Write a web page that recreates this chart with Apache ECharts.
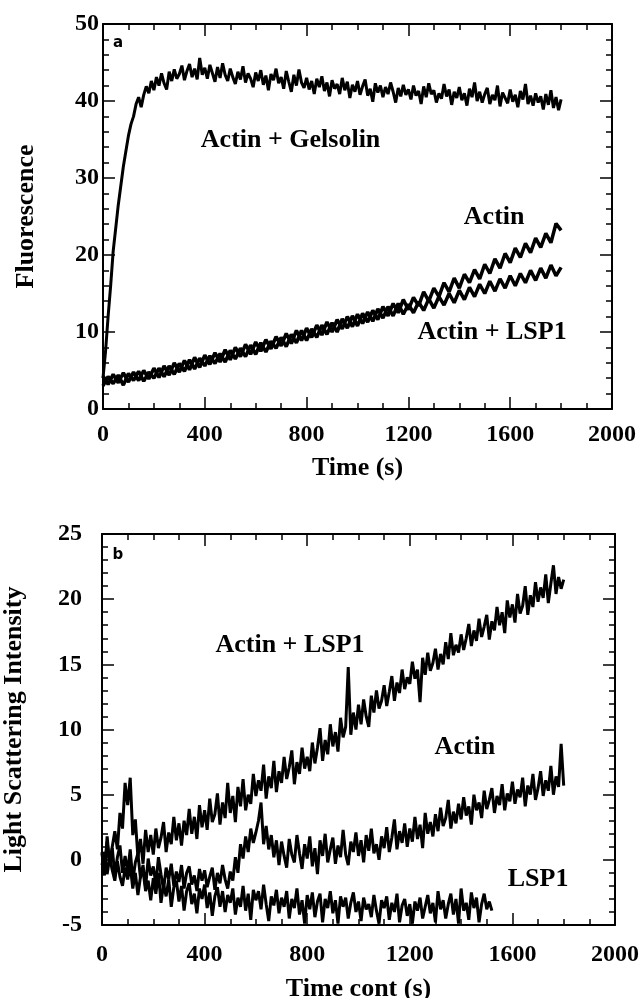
<!DOCTYPE html>
<html>
<head>
<meta charset="utf-8">
<script src="https://cdn.jsdelivr.net/npm/echarts@6/dist/echarts.min.js"></script>
<style>
html,body{margin:0;padding:0;background:#fff;}
#chart{width:642px;height:998px;}
</style>
</head>
<body>
<div id="chart"></div>
<script>
// ---------- sampling times (s) ----------
var timeS20 = [0,20,40,60,80,100,120,140,160,180,200,220,240,260,280,300,320,340,360,380,
400,420,440,460,480,500,520,540,560,580,600,620,640,660,680,700,720,740,760,780,
800,820,840,860,880,900,920,940,960,980,1000,1020,1040,1060,1080,1100,1120,1140,1160,1180,
1200,1220,1240,1260,1280,1300,1320,1340,1360,1380,1400,1420,1440,1460,1480,1500,1520,1540,1560,1580,
1600,1620,1640,1660,1680,1700,1720,1740,1760,1780,1800];
var timeS10 = [0,10,20,30,40,50,60,70,80,90,100,110,120,130,140,150,160,170,180,190,
200,210,220,230,240,250,260,270,280,290,300,310,320,330,340,350,360,370,380,390,
400,410,420,430,440,450,460,470,480,490,500,510,520,530,540,550,560,570,580,590,
600,610,620,630,640,650,660,670,680,690,700,710,720,730,740,750,760,770,780,790,
800,810,820,830,840,850,860,870,880,890,900,910,920,930,940,950,960,970,980,990,
1000,1010,1020,1030,1040,1050,1060,1070,1080,1090,1100,1110,1120,1130,1140,1150,1160,1170,1180,1190,
1200,1210,1220,1230,1240,1250,1260,1270,1280,1290,1300,1310,1320,1330,1340,1350,1360,1370,1380,1390,
1400,1410,1420,1430,1440,1450,1460,1470,1480,1490,1500,1510,1520,1530,1540,1550,1560,1570,1580,1590,
1600,1610,1620,1630,1640,1650,1660,1670,1680,1690,1700,1710,1720,1730,1740,1750,1760,1770,1780,1790,1800];

// ---------- panel a : Fluorescence ----------
var aGelsolin = [4.0,7.5,12.0,16.0,20.5,23.5,26.5,29.0,31.5,33.5,
35.5,37.0,38.0,39.6,40.5,39.2,40.8,41.9,41.0,42.6,
41.4,43.1,42.0,43.6,42.3,41.5,43.8,42.6,44.1,42.9,
43.5,44.6,42.7,43.9,44.8,43.1,44.2,42.8,45.6,43.4,
44.3,42.9,44.7,43.6,42.5,44.4,43.0,44.9,43.4,42.6,
44.2,43.1,42.2,43.8,42.8,44.5,42.4,43.6,42.9,41.8,
43.7,42.6,44.0,42.1,43.3,41.4,43.5,42.7,44.2,42.3,
43.1,41.6,43.9,42.5,41.2,43.4,42.0,44.1,42.4,41.7,
43.0,41.5,42.6,40.9,42.9,41.8,43.2,41.3,42.4,40.6,
42.7,41.6,42.2,40.9,43.0,41.4,42.5,40.4,42.1,41.2,
42.6,40.8,41.9,42.8,40.7,41.6,39.9,42.3,41.1,42.0,
40.5,41.8,40.9,42.4,41.2,39.8,41.7,40.6,42.1,40.8,
41.5,40.2,42.0,40.7,41.3,39.6,41.9,40.5,42.3,40.9,
41.4,39.8,41.0,40.3,42.2,40.6,41.5,39.5,41.2,40.4,
41.8,40.1,41.0,39.4,41.6,40.5,42.4,40.0,41.2,39.8,
40.9,41.7,39.6,40.8,40.1,42.0,39.3,41.1,40.4,39.7,
41.5,39.9,40.8,39.2,41.3,40.2,42.2,39.6,40.7,39.4,
41.0,39.8,40.6,38.9,40.9,39.5,41.4,39.1,40.5,38.8,
40.2];
var aActin = [3.0,4.2,3.3,4.4,3.1,4.6,3.7,4.9,3.6,4.8,
4.0,5.3,4.2,5.6,4.5,5.9,4.9,6.4,5.2,6.6,
5.6,6.9,5.9,7.2,6.1,7.6,6.5,7.9,6.8,8.3,
7.1,8.6,7.4,8.8,7.9,9.3,8.1,9.7,8.6,10.2,
8.9,10.4,9.3,10.9,9.7,11.2,10.0,11.7,10.5,12.1,
10.8,12.4,11.3,12.8,11.6,13.3,12.1,13.7,12.5,14.2,
12.9,14.5,13.4,15.2,14.0,15.7,14.6,16.4,15.2,17.0,
15.7,17.5,16.4,18.1,16.9,18.8,17.6,19.5,18.3,20.2,
19.0,20.9,19.7,21.5,20.3,22.2,21.0,22.8,21.6,24.1,
23.2];
var aActinLSP1 = [4.3,3.2,4.5,3.4,4.7,3.5,4.8,3.7,5.0,3.9,
5.3,4.1,5.6,4.4,6.0,4.8,6.3,5.1,6.7,5.4,
7.0,5.8,7.3,6.1,7.7,6.4,8.0,6.8,8.4,7.1,
8.7,7.5,9.0,7.8,9.4,8.2,9.8,8.5,10.2,8.9,
10.5,9.3,10.9,9.6,11.3,10.0,11.6,10.4,12.0,10.7,
12.3,11.1,12.6,11.4,13.0,11.8,13.3,12.1,13.7,12.3,
13.6,12.5,13.9,12.8,14.3,13.1,14.6,13.5,15.0,13.8,
15.4,14.2,15.8,14.6,16.2,15.0,16.6,15.3,16.9,15.7,
17.3,16.0,17.6,16.4,18.0,16.7,18.3,17.0,18.7,17.3,
18.4];

// ---------- panel b : Light scattering ----------
var bActinLSP1 = [0.5,-1.2,1.8,-0.4,1.0,2.2,0.8,3.6,2.4,5.9,
4.2,6.3,1.9,3.1,0.2,1.6,-0.3,2.3,0.6,1.9,
0.4,2.4,0.9,1.7,2.9,0.6,2.1,1.2,3.3,1.5,
2.8,1.1,3.0,1.9,3.9,2.0,3.3,1.6,4.2,2.5,
3.8,2.3,4.7,2.9,3.5,5.1,2.7,4.4,3.2,5.9,
3.6,4.9,2.9,5.6,4.1,6.2,3.8,5.0,4.3,6.6,
4.9,6.1,5.3,7.3,4.7,6.4,5.5,7.6,5.2,6.8,
5.9,7.9,6.2,7.1,8.4,5.8,7.5,6.6,8.6,7.0,
7.9,6.8,9.0,7.4,8.6,10.1,7.6,9.2,8.1,10.4,
8.7,9.8,8.3,10.9,9.4,10.2,14.8,9.6,11.3,10.0,
11.9,10.4,12.3,11.0,10.2,12.6,11.3,13.0,11.6,12.2,
13.4,11.8,12.9,14.1,12.2,13.6,12.8,14.6,13.1,14.0,
13.5,15.2,13.9,14.6,12.1,15.5,14.2,15.9,14.5,15.1,
16.2,14.6,15.8,15.0,16.7,15.4,17.4,15.7,16.5,15.9,
17.3,16.1,17.0,18.1,16.4,17.6,16.8,18.5,17.1,17.9,
18.8,16.9,18.3,17.6,19.4,18.0,19.0,17.4,19.9,18.6,
19.6,18.2,20.4,18.9,19.5,21.0,18.8,20.3,19.4,21.3,
19.8,20.9,20.1,21.9,19.7,21.2,22.6,20.4,21.7,20.8,
21.5];
var bActin = [0.6,-0.8,1.4,-0.3,0.9,-1.2,0.2,1.1,-1.0,0.3,
-0.9,0.8,-1.6,-0.2,0.5,-1.4,-0.4,-2.1,0.1,-1.2,
-0.5,-1.9,0.2,-1.1,-2.3,-0.6,-1.5,-0.3,-2.0,-0.9,
-1.7,-0.4,-2.2,-1.0,-0.5,-1.9,-1.2,-2.4,-0.7,-1.6,
-0.8,-2.1,-1.3,-0.6,-2.3,-1.0,-1.8,-0.4,-1.5,-2.2,
-0.9,-1.6,0.2,-1.0,1.2,0.1,1.8,0.6,2.4,1.3,
2.1,3.0,4.4,1.2,2.6,0.8,1.9,0.2,1.5,-0.4,
1.4,0.3,-0.6,1.6,0.4,-0.2,1.9,0.5,-0.7,1.2,
0.1,1.8,-0.5,0.9,-1.1,1.5,0.3,2.0,-0.2,0.8,
1.7,-0.3,1.1,0.2,2.3,0.4,-0.4,1.4,0.6,2.1,
0.3,1.5,-0.2,1.9,0.7,2.4,0.5,1.2,0.0,1.8,
0.9,2.5,0.6,1.7,3.1,0.8,2.2,1.3,2.8,1.0,
2.4,1.4,3.3,1.6,2.7,0.9,3.6,2.0,2.9,1.8,
3.5,2.2,4.0,2.6,3.2,4.6,2.4,3.7,2.8,4.3,
3.1,4.8,3.4,4.1,2.7,5.0,3.8,4.4,3.2,5.3,
3.9,4.6,5.5,3.6,4.9,4.2,5.8,3.8,5.1,4.5,
6.0,4.3,5.4,4.8,6.3,4.1,5.7,5.0,6.6,4.6,
5.5,6.8,4.9,6.1,5.3,7.2,5.0,6.4,5.6,8.9,
5.7];
var bLSP1 = [-0.4,0.6,-1.1,0.2,-0.8,-1.6,-0.1,-1.3,-2.0,-0.6,
-1.5,-0.4,-2.2,-1.0,-2.7,-1.3,-0.8,-2.4,-1.6,-3.1,
-1.4,-2.6,-1.0,-3.3,-1.9,-2.8,-1.5,-3.6,-2.1,-1.6,
-3.2,-2.0,-3.9,-2.4,-1.8,-3.4,-2.6,-4.1,-2.2,-3.0,
-1.9,-3.7,-2.5,-4.3,-2.8,-2.1,-3.6,-2.4,-4.0,-2.7,
-3.3,-2.2,-4.2,-2.9,-3.6,-2.0,-3.9,-2.6,-4.6,-2.3,
-3.1,-2.4,-3.8,-1.9,-3.4,-4.7,-2.8,-3.5,-2.3,-4.1,
-2.9,-3.6,-2.4,-4.5,-3.0,-3.7,-2.2,-4.2,-3.1,-4.9,
-2.7,-3.8,-2.5,-4.4,-3.2,-2.6,-4.8,-3.0,-3.7,-2.4,
-4.1,-3.1,-4.9,-2.8,-3.6,-2.9,-4.5,-3.3,-2.5,-4.0,
-3.2,-4.7,-2.9,-3.8,-3.4,-4.4,-2.7,-3.9,-4.9,-3.1,
-3.7,-2.8,-4.6,-3.3,-4.0,-2.6,-4.8,-3.5,-3.0,-4.3,
-3.4,-4.9,-3.2,-3.9,-2.9,-4.5,-3.6,-2.7,-4.1,-3.3,
-4.8,-2.4,-3.8,-3.1,-4.5,-3.4,-2.6,-4.2,-3.0,-4.9,
-2.2,-3.9,-3.3,-4.6,-2.5,-3.7,-2.9,-4.8,-3.4,-2.6,
-3.8,-3.2,-3.9];

// ---------- axes ----------
var xTicks = [0,400,800,1200,1600,2000];
var yTicksA = [0,10,20,30,40,50];
var yTicksB = [-5,0,5,10,15,20,25];

// ---------- annotations (data coordinates) ----------
var notesA = [
  {name:'Actin + Gelsolin', value:[737,34.9]},
  {name:'Actin', value:[1537,24.9]},
  {name:'Actin + LSP1', value:[1529,10.0]}
];
var notesB = [
  {name:'Actin + LSP1', value:[733,16.5]},
  {name:'Actin', value:[1415,8.6]},
  {name:'LSP1', value:[1700,-1.5]}
];
var panelTagA = [{name:'a', value:[59,47.5]}];
var panelTagB = [{name:'b', value:[62,23.4]}];

var SERIF = '"Liberation Serif","Times New Roman",serif';

function pairs(ts, vs){ return vs.map(function(v,i){ return [ts[i], v]; }); }
function plain(v){ return String(v); }

function xAxisDef(grid, pos, showLabel, name, gap, margin){
  return {
    type:'value', gridIndex:grid, position:pos, min:xTicks[0], max:xTicks[xTicks.length-1], interval:400,
    name: name||'', nameLocation:'middle', nameGap: gap||0,
    nameTextStyle:{fontFamily:SERIF, fontWeight:'bold', fontSize:26, color:'#000'},
    axisLine:{show:true, onZero:false, lineStyle:{color:'#000', width:2}},
    axisTick:{show:true, inside:true, length:12, lineStyle:{color:'#000', width:1.5}},
    minorTick:{show:true, splitNumber:4, length:6, lineStyle:{color:'#000', width:1.5}},
    axisLabel:{show:showLabel, margin:margin||12, formatter:plain, fontFamily:SERIF, fontWeight:'bold', fontSize:24, color:'#000'},
    splitLine:{show:false}
  };
}
function yAxisDef(grid, pos, showLabel, ticks, interval, minorSplit, name, gap, margin){
  return {
    type:'value', gridIndex:grid, position:pos, min:ticks[0], max:ticks[ticks.length-1], interval:interval,
    name: name||'', nameLocation:'middle', nameGap: gap||0,
    nameTextStyle:{fontFamily:SERIF, fontWeight:'bold', fontSize:26, color:'#000'},
    axisLine:{show:true, onZero:false, lineStyle:{color:'#000', width:2}},
    axisTick:{show:true, inside:true, length:12, lineStyle:{color:'#000', width:1.5}},
    minorTick:{show:true, splitNumber:minorSplit, length:6, lineStyle:{color:'#000', width:1.5}},
    axisLabel:{show:showLabel, margin:margin||4, formatter:plain, fontFamily:SERIF, fontWeight:'bold', fontSize:24, color:'#000'},
    splitLine:{show:false}
  };
}
function traceSeries(xi, yi, data, w){
  return {type:'line', xAxisIndex:xi, yAxisIndex:yi, data:data, showSymbol:false, symbol:'none',
    lineStyle:{color:'#000', width:w}, clip:true, z:3};
}
function noteSeries(xi, yi, data, font, size, weight){
  return {type:'scatter', xAxisIndex:xi, yAxisIndex:yi, data:data, symbolSize:0, z:5, silent:true,
    itemStyle:{color:'#000', opacity:1},
    label:{show:true, position:'inside', formatter:'{b}', fontFamily:font, fontSize:size, fontWeight:weight, color:'#000', opacity:1}};
}

var chart = echarts.init(document.getElementById('chart'), null, {renderer:'canvas'});
chart.setOption({
  animation:false,
  backgroundColor:'#fff',
  grid:[
    {left:103, top:24, width:509, height:385, containLabel:false, outerBoundsMode:'none'},
    {left:102, top:534, width:513, height:391, containLabel:false, outerBoundsMode:'none'}
  ],
  xAxis:[
    xAxisDef(0,'bottom',true,'Time (s)',46,14),
    xAxisDef(0,'top',false),
    xAxisDef(1,'bottom',true,'Time cont (s)',51,18),
    xAxisDef(1,'top',false)
  ],
  yAxis:[
    yAxisDef(0,'left',true,yTicksA,10,5,'Fluorescence',64,4),
    yAxisDef(0,'right',false,yTicksA,10,5),
    yAxisDef(1,'left',true,yTicksB,5,5,'Light Scattering Intensity',75,20),
    yAxisDef(1,'right',false,yTicksB,5,5)
  ],
  series:[
    traceSeries(0,0,pairs(timeS10,aGelsolin),3),
    traceSeries(0,0,pairs(timeS20,aActin),3.5),
    traceSeries(0,0,pairs(timeS20,aActinLSP1),3.5),
    traceSeries(2,2,pairs(timeS10,bActinLSP1),3),
    traceSeries(2,2,pairs(timeS10,bActin),3),
    traceSeries(2,2,pairs(timeS10.slice(0,bLSP1.length),bLSP1),3),
    noteSeries(0,0,notesA,SERIF,26,'bold'),
    noteSeries(2,2,notesB,SERIF,26,'bold'),
    noteSeries(0,0,panelTagA,'"DejaVu Sans",sans-serif',15,'bold'),
    noteSeries(2,2,panelTagB,'"DejaVu Sans",sans-serif',15,'bold')
  ]
});
</script>
</body>
</html>
